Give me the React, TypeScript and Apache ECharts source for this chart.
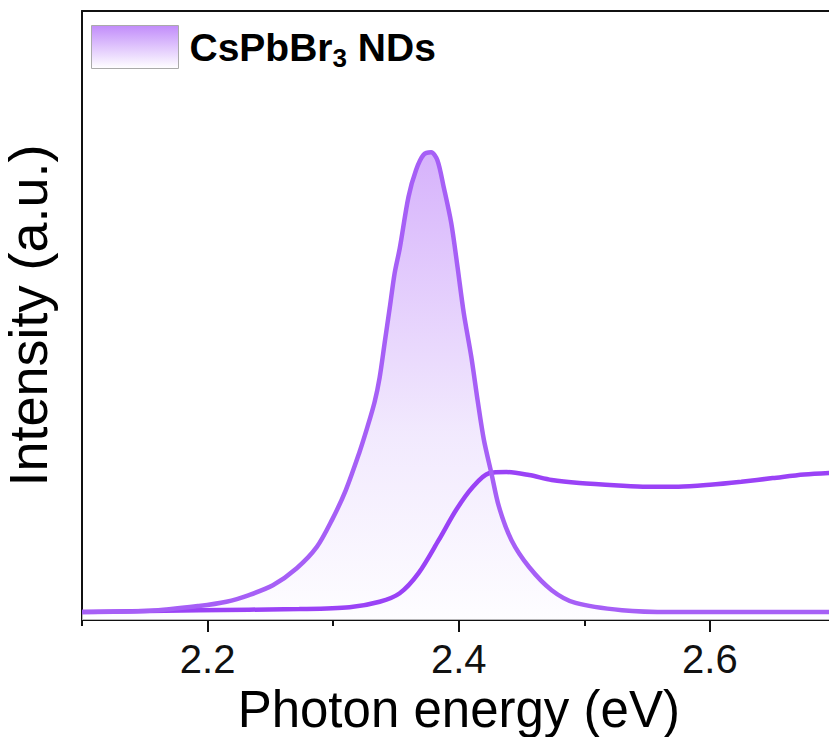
import React, { useEffect, useRef } from "react";
import * as echarts from "echarts";

// Photoluminescence (filled) of CsPbBr3 NDs
const plEnergy = [2.100, 2.154, 2.193, 2.215, 2.233, 2.252, 2.271, 2.287, 2.299, 2.310, 2.321, 2.327, 2.333, 2.337, 2.341, 2.345, 2.349, 2.353, 2.360, 2.366, 2.372, 2.378, 2.383, 2.388, 2.394, 2.399, 2.404, 2.410, 2.415, 2.420, 2.426, 2.432, 2.442, 2.456, 2.474, 2.493, 2.530, 2.570, 2.700];
const plIntensity = [0.013, 0.015, 0.023, 0.030, 0.041, 0.057, 0.085, 0.120, 0.164, 0.213, 0.276, 0.315, 0.358, 0.398, 0.455, 0.512, 0.570, 0.610, 0.695, 0.739, 0.764, 0.768, 0.755, 0.711, 0.652, 0.580, 0.504, 0.432, 0.361, 0.296, 0.241, 0.186, 0.131, 0.087, 0.049, 0.028, 0.016, 0.013, 0.013];

// Absorption (unfilled line)
const absEnergy = [2.100, 2.193, 2.273, 2.313, 2.337, 2.353, 2.368, 2.384, 2.398, 2.411, 2.424, 2.438, 2.456, 2.474, 2.496, 2.527, 2.550, 2.575, 2.600, 2.625, 2.650, 2.675, 2.700];
const absIntensity = [0.013, 0.016, 0.018, 0.021, 0.030, 0.044, 0.077, 0.131, 0.181, 0.218, 0.241, 0.243, 0.238, 0.230, 0.225, 0.221, 0.219, 0.219, 0.222, 0.227, 0.233, 0.239, 0.242];

const majorTicks = [2.2, 2.4, 2.6];
const minorTicks = [2.1, 2.3, 2.5, 2.7];
const seriesNames = ["CsPbBr3 NDs", "Absorption"];

const FONT = "'Liberation Sans', Arial, sans-serif";

export default function App() {
  const ref = useRef<HTMLDivElement>(null);
  useEffect(() => {
    if (!ref.current) return;
    const chart = echarts.init(ref.current, undefined, { renderer: "svg" });
    const pl = plEnergy.map((x, i) => [x, plIntensity[i]]);
    const ab = absEnergy.map((x, i) => [x, absIntensity[i]]);
    const axisLine = { show: true, lineStyle: { color: "#111", width: 2 } };
    const smooth = 0.3;
    chart.setOption({
      animation: false,
      backgroundColor: "#fff",
      grid: { left: 82, top: 11, right: -6.5, bottom: 117, show: false, containLabel: false, outerBoundsMode: "none" },
      legend: {
        left: 86,
        top: 20,
        icon: "rect",
        itemWidth: 87,
        itemHeight: 43,
        selectedMode: false,
        data: [
          {
            name: seriesNames[0],
            itemStyle: {
              color: new echarts.graphic.LinearGradient(0, 0, 0, 1, [
                { offset: 0, color: "#c18cfa" },
                { offset: 1, color: "#ffffff" },
              ]),
              borderColor: "#aaaaaa",
              borderWidth: 1,
            },
            lineStyle: { opacity: 0 },
          },
        ],
        formatter: () => "{a|CsPbBr}{b|3}{a| NDs}",
        textStyle: {
          padding: [0, 0, 0, 6],
          rich: {
            a: { fontFamily: FONT, fontWeight: "bold", fontSize: 39, color: "#000" },
            b: { fontFamily: FONT, fontWeight: "bold", fontSize: 26, color: "#000", padding: [22, 0, 0, 0] },
          },
        },
      },
      xAxis: [
        {
          type: "value",
          min: 2.1,
          max: 2.7,
          position: "bottom",
          name: "Photon energy (eV)",
          nameLocation: "middle",
          nameGap: 60,
          nameTextStyle: { fontFamily: FONT, fontSize: 51, color: "#000" },
          axisLine,
          axisTick: { show: true, length: 12, lineStyle: { color: "#111", width: 2 }, customValues: majorTicks },
          axisLabel: {
            show: true,
            margin: 19,
            fontFamily: FONT,
            fontSize: 40,
            color: "#111",
            customValues: majorTicks,
            formatter: (v: number) => v.toFixed(1),
          },
          splitLine: { show: false },
        },
        {
          type: "value",
          min: 2.1,
          max: 2.7,
          position: "bottom",
          axisLine: { show: false },
          axisTick: { show: true, length: 6, lineStyle: { color: "#111", width: 2 }, customValues: minorTicks },
          axisLabel: { show: false },
          splitLine: { show: false },
        },
        {
          type: "value",
          min: 2.1,
          max: 2.7,
          position: "top",
          axisLine,
          axisTick: { show: false },
          axisLabel: { show: false },
          splitLine: { show: false },
        },
      ],
      yAxis: {
        type: "value",
        min: 0,
        max: 1,
        name: "Intensity (a.u.)",
        nameLocation: "middle",
        nameGap: 27,
        nameTextStyle: { fontFamily: FONT, fontSize: 54, lineHeight: 54, color: "#000" },
        axisLine,
        axisTick: { show: false },
        axisLabel: { show: false },
        splitLine: { show: false },
      },
      series: [
        {
          name: seriesNames[0],
          type: "line",
          data: pl,
          smooth,
          showSymbol: false,
          lineStyle: { width: 0, opacity: 0 },
          itemStyle: { color: "#a65ff6" },
          areaStyle: {
            color: new echarts.graphic.LinearGradient(0, 0, 0, 1, [
              { offset: 0, color: "#c592fa" },
              { offset: 0.6, color: "#ece0fd" },
              { offset: 1, color: "#fdfcff" },
            ]),
          },
          z: 1,
        },
        {
          name: seriesNames[1],
          type: "line",
          data: ab,
          smooth,
          showSymbol: false,
          lineStyle: { color: "#9a42f6", width: 4.5 },
          itemStyle: { color: "#9a42f6" },
          z: 2,
        },
        {
          name: seriesNames[0],
          type: "line",
          data: pl,
          smooth,
          showSymbol: false,
          lineStyle: { color: "#a65ff6", width: 4.5 },
          itemStyle: { color: "#a65ff6" },
          z: 3,
        },
      ],
    });
    return () => chart.dispose();
  }, []);
  return <div ref={ref} style={{ position: "fixed", left: 0, top: 0, width: 829, height: 737 }} />;
}
